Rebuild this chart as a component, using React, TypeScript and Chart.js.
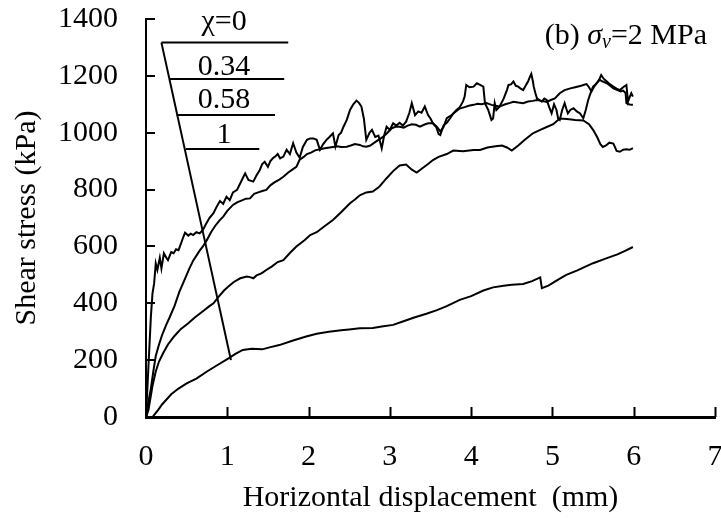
import React, { useEffect, useRef } from "react";
import { Chart, registerables } from "chart.js";

Chart.register(...registerables);

const FONT = '"Liberation Serif", "Times New Roman", serif';

// Axis ticks
const xTicks = [0, 1, 2, 3, 4, 5, 6, 7];
const yTicks = [0, 200, 400, 600, 800, 1000, 1200, 1400];

// χ = 0
const chi0X = [0,0.02,0.04,0.06,0.08,0.1,0.12,0.14,0.17,0.19,0.22,0.25,0.27,0.31,0.34,0.37,0.4,0.43,0.46,0.48,0.52,0.55,0.58,0.62,0.66,0.7,0.74,0.78,0.83,0.87,0.91,0.95,0.99,1.03,1.07,1.12,1.16,1.19,1.22,1.26,1.32,1.36,1.4,1.43,1.46,1.5,1.53,1.56,1.59,1.62,1.65,1.69,1.73,1.77,1.81,1.85,1.89,1.93,1.98,2.02,2.06,2.1,2.14,2.18,2.22,2.26,2.3,2.33,2.37,2.4,2.43,2.47,2.51,2.55,2.59,2.62,2.65,2.68,2.71,2.75,2.78,2.82,2.86,2.9,2.93,2.96,3,3.04,3.08,3.12,3.16,3.2,3.24,3.27,3.31,3.35,3.39,3.43,3.47,3.5,3.53,3.57,3.6,3.62,3.66,3.7,3.74,3.78,3.82,3.86,3.9,3.92,3.94,3.98,4.03,4.07,4.11,4.15,4.17,4.21,4.25,4.27,4.29,4.31,4.35,4.4,4.44,4.46,4.49,4.52,4.55,4.58,4.61,4.64,4.67,4.7,4.72,4.74,4.76,4.77,4.79,4.81,4.84,4.87,4.9,4.93,4.96,4.99,5.02,5.05,5.07,5.09,5.12,5.15,5.17,5.19,5.22,5.26,5.3,5.34,5.38,5.41,5.44,5.47,5.5,5.53,5.56,5.58,5.6,5.63,5.67,5.71,5.75,5.79,5.83,5.87,5.91,5.93,5.95,5.97,5.99];
const chi0Y = [0,118,236,353,435,470,540,517,560,523,576,560,552,580,576,590,587,610,634,648,638,645,640,650,646,658,680,700,717,740,760,750,775,763,790,799,822,840,857,834,828,850,869,890,898,880,900,910,916,925,910,916,940,925,963,930,912,950,975,980,980,975,940,960,975,986,998,951,992,1000,1021,1045,1080,1100,1113,1105,1092,1050,975,1000,1010,985,990,945,990,1021,1010,1033,1025,1035,1025,1039,1070,1104,1062,1075,1070,1092,1062,1050,1033,1020,995,992,1025,1035,1050,1068,1080,1090,1110,1127,1168,1160,1162,1174,1168,1162,1104,1080,1045,1050,1104,1080,1092,1120,1150,1168,1170,1180,1165,1162,1155,1150,1165,1180,1195,1207,1180,1162,1140,1121,1115,1109,1120,1115,1090,1068,1100,1080,1050,1045,1080,1104,1085,1068,1080,1086,1075,1068,1051,1080,1115,1140,1162,1170,1180,1190,1203,1190,1180,1170,1162,1155,1150,1160,1168,1109,1125,1139,1127];

// χ = 0.34
const chi034X = [0,0.03,0.06,0.09,0.12,0.16,0.2,0.25,0.29,0.35,0.41,0.47,0.53,0.58,0.66,0.7,0.75,0.8,0.85,0.9,0.95,1.0,1.07,1.12,1.18,1.23,1.28,1.33,1.38,1.43,1.48,1.53,1.58,1.64,1.69,1.75,1.8,1.85,1.89,1.94,1.98,2.03,2.08,2.14,2.2,2.26,2.3,2.35,2.4,2.47,2.52,2.57,2.63,2.67,2.71,2.76,2.81,2.86,2.92,2.97,3.02,3.07,3.12,3.17,3.22,3.27,3.32,3.37,3.42,3.47,3.53,3.58,3.62,3.66,3.7,3.75,3.8,3.86,3.92,3.97,4.03,4.08,4.13,4.19,4.25,4.3,4.35,4.42,4.48,4.52,4.58,4.64,4.7,4.76,4.81,4.87,4.93,4.98,5.03,5.09,5.15,5.22,5.28,5.34,5.38,5.42,5.45,5.48,5.52,5.55,5.58,5.62,5.67,5.71,5.75,5.8,5.84,5.87,5.9,5.91,5.94,5.97,5.99];
const chi034Y = [0,55,100,160,215,255,290,325,350,390,440,480,520,550,585,600,623,650,672,690,705,725,746,755,762,768,769,785,790,795,799,815,825,835,845,860,870,880,905,915,925,930,938,942,945,948,950,952,950,951,955,960,957,952,951,955,965,975,986,1000,1015,1021,1021,1018,1025,1030,1028,1021,1028,1033,1033,1020,1005,1020,1051,1060,1072,1085,1090,1095,1098,1102,1100,1104,1098,1095,1092,1100,1105,1109,1106,1104,1110,1112,1115,1112,1108,1115,1121,1139,1150,1156,1160,1164,1168,1171,1160,1145,1165,1175,1186,1180,1174,1165,1156,1150,1145,1148,1140,1104,1100,1098,1098];

// χ = 0.58
const chi058X = [0,0.03,0.08,0.12,0.16,0.21,0.27,0.35,0.43,0.52,0.6,0.7,0.78,0.83,0.9,0.96,1.01,1.08,1.16,1.24,1.28,1.32,1.36,1.42,1.48,1.55,1.62,1.69,1.77,1.85,1.95,2.02,2.1,2.2,2.3,2.4,2.51,2.57,2.63,2.71,2.79,2.87,2.96,3.04,3.12,3.2,3.27,3.33,3.4,3.47,3.53,3.6,3.7,3.78,3.9,4.03,4.11,4.2,4.3,4.38,4.44,4.5,4.58,4.66,4.76,4.85,4.93,5.01,5.09,5.18,5.28,5.38,5.45,5.5,5.55,5.59,5.62,5.66,5.7,5.75,5.79,5.83,5.87,5.91,5.95,5.99];
const chi058Y = [0,25,110,160,195,224,255,285,310,330,350,372,390,400,425,445,458,475,488,494,492,488,498,505,517,530,545,552,577,600,622,640,650,672,693,720,752,765,780,790,793,810,840,865,885,888,870,860,875,890,904,915,925,937,935,939,939,948,952,955,948,937,955,975,998,1010,1020,1030,1050,1048,1045,1043,1030,1010,985,960,950,955,965,962,936,933,940,942,940,946];

// χ = 1
const chi1X = [0.08,0.15,0.2,0.31,0.4,0.5,0.62,0.75,0.88,1.02,1.1,1.19,1.3,1.43,1.52,1.64,1.8,1.97,2.1,2.25,2.4,2.5,2.63,2.79,2.9,3.04,3.15,3.3,3.45,3.58,3.7,3.86,4.0,4.15,4.27,4.4,4.5,4.64,4.75,4.85,4.87,4.95,5.05,5.17,5.3,5.4,5.5,5.67,5.8,5.9,5.99];
const chi1Y = [0,25,45,80,100,118,135,160,183,207,222,236,240,238,245,253,268,283,293,300,305,308,312,313,318,324,335,350,363,376,390,412,425,445,456,462,465,468,478,491,453,462,480,500,515,528,541,559,572,585,598];

// Leader annotation (labels, line levels and extents in data units)
const leaderLabels = ["χ=0", "0.34", "0.58", "1"];
const leaderLevelY = [1317, 1189, 1062, 943];
const leaderStartX = [0.19, 0.287, 0.377, 0.488];
const leaderEndX = [1.75, 1.7, 1.587, 1.394];
const leaderTipX = 1.045;
const leaderTipY = 200;
const leaderLabelX = 0.96;
const leaderLabelY = [1361, 1203, 1087, 964];

const toPts = (xs: number[], ys: number[]) =>
  xs.slice(0, Math.min(xs.length, ys.length)).map((x, i) => ({ x, y: ys[i] }));

const insideTicksAndText = {
  id: "insideTicksAndText",
  afterDraw(chart: any) {
    const { ctx, scales, chartArea } = chart;
    const x = scales.x;
    const y = scales.y;
    ctx.save();
    ctx.strokeStyle = "#000";
    ctx.lineWidth = 2;
    ctx.beginPath();
    xTicks.forEach((v) => {
      const px = Math.round(x.getPixelForValue(v)) + 0.5;
      ctx.moveTo(px, chartArea.bottom);
      ctx.lineTo(px, chartArea.bottom - 10);
    });
    yTicks.forEach((v) => {
      const py = Math.round(y.getPixelForValue(v));
      ctx.moveTo(chartArea.left, py);
      ctx.lineTo(chartArea.left + 9, py);
    });
    ctx.stroke();

    // leader labels
    ctx.fillStyle = "#000";
    ctx.font = `30px ${FONT}`;
    ctx.textAlign = "center";
    ctx.textBaseline = "alphabetic";
    leaderLabels.forEach((t, i) => {
      ctx.fillText(t, x.getPixelForValue(leaderLabelX), y.getPixelForValue(leaderLabelY[i]));
    });

    // panel title: (b) σv=2 MPa
    const base = chartArea.top + 25;
    const parts = [
      { t: "(b) ", f: `30px ${FONT}`, dy: 0 },
      { t: "σ", f: `italic 30px ${FONT}`, dy: 0 },
      { t: "v", f: `italic 20px ${FONT}`, dy: 4 },
      { t: "=2 MPa", f: `30px ${FONT}`, dy: 0 },
    ];
    let total = 0;
    parts.forEach((p) => {
      ctx.font = p.f;
      total += ctx.measureText(p.t).width;
    });
    let cx = chartArea.right - 8 - total;
    ctx.textAlign = "left";
    parts.forEach((p) => {
      ctx.font = p.f;
      ctx.fillText(p.t, cx, base + p.dy);
      cx += ctx.measureText(p.t).width;
    });
    ctx.restore();
  },
};

export default function App() {
  const ref = useRef<HTMLCanvasElement | null>(null);

  useEffect(() => {
    if (!ref.current) return;
    Chart.defaults.font.family = FONT;
    Chart.defaults.color = "#000";

    const curve = (label: string, xs: number[], ys: number[]) => ({
      label,
      data: toPts(xs, ys),
      borderColor: "#000",
      borderWidth: 2,
      pointRadius: 0,
      tension: 0,
      fill: false,
    });

    const leaderSets = leaderLabels.map((lab, i) => ({
      label: "leader " + lab,
      data: [
        { x: leaderStartX[i], y: leaderLevelY[i] },
        { x: leaderEndX[i], y: leaderLevelY[i] },
      ],
      borderColor: "#000",
      borderWidth: 2,
      pointRadius: 0,
      fill: false,
    }));

    const slant = {
      label: "leader",
      data: [
        { x: leaderStartX[0], y: leaderLevelY[0] },
        { x: leaderTipX, y: leaderTipY },
      ],
      borderColor: "#000",
      borderWidth: 2,
      pointRadius: 0,
      fill: false,
    };

    const chart = new Chart(ref.current, {
      type: "line",
      data: {
        datasets: [
          curve("χ=0", chi0X, chi0Y),
          curve("χ=0.34", chi034X, chi034Y),
          curve("χ=0.58", chi058X, chi058Y),
          curve("χ=1", chi1X, chi1Y),
          ...leaderSets,
          slant,
        ] as any,
      },
      options: {
        animation: false,
        responsive: true,
        maintainAspectRatio: false,
        layout: { padding: { left: 0, right: 6, top: 19, bottom: 0 } },
        plugins: {
          legend: { display: false },
          tooltip: { enabled: false },
          title: { display: false },
        },
        scales: {
          x: {
            type: "linear",
            min: 0,
            max: 7,
            afterBuildTicks: (s: any) => {
              s.ticks = xTicks.map((v) => ({ value: v }));
            },
            ticks: {
              font: { size: 30, family: FONT },
              color: "#000",
              padding: 22,
              maxRotation: 0,
              autoSkip: false,
              callback: (v: any) => String(v),
            },
            grid: { display: false, drawTicks: false },
            border: { display: true, color: "#000", width: 3 },
            title: {
              display: true,
              text: "Horizontal displacement  (mm)",
              font: { size: 30, family: FONT },
              color: "#000",
              padding: { top: 0, bottom: 2 },
            },
            afterFit: (s: any) => {
              s.height = 101;
              s.paddingLeft = 0;
              s.paddingRight = 0;
            },
          },
          y: {
            type: "linear",
            min: 0,
            max: 1400,
            afterBuildTicks: (s: any) => {
              s.ticks = yTicks.map((v) => ({ value: v }));
            },
            ticks: {
              font: { size: 30, family: FONT },
              color: "#000",
              padding: 28,
              autoSkip: false,
              callback: (v: any) => String(v),
            },
            grid: { display: false, drawTicks: false },
            border: { display: true, color: "#000", width: 2 },
            title: {
              display: true,
              text: "Shear stress (kPa)",
              font: { size: 30, family: FONT },
              color: "#000",
              padding: { top: 9, bottom: 0 },
            },
            afterFit: (s: any) => {
              s.width = 146;
              s.paddingTop = 0;
              s.paddingBottom = 0;
            },
          },
        },
      },
      plugins: [insideTicksAndText],
    });

    return () => chart.destroy();
  }, []);

  return (
    <div style={{ position: "fixed", left: 0, top: 0, width: 721, height: 518, background: "#fff" }}>
      <canvas ref={ref} />
    </div>
  );
}
